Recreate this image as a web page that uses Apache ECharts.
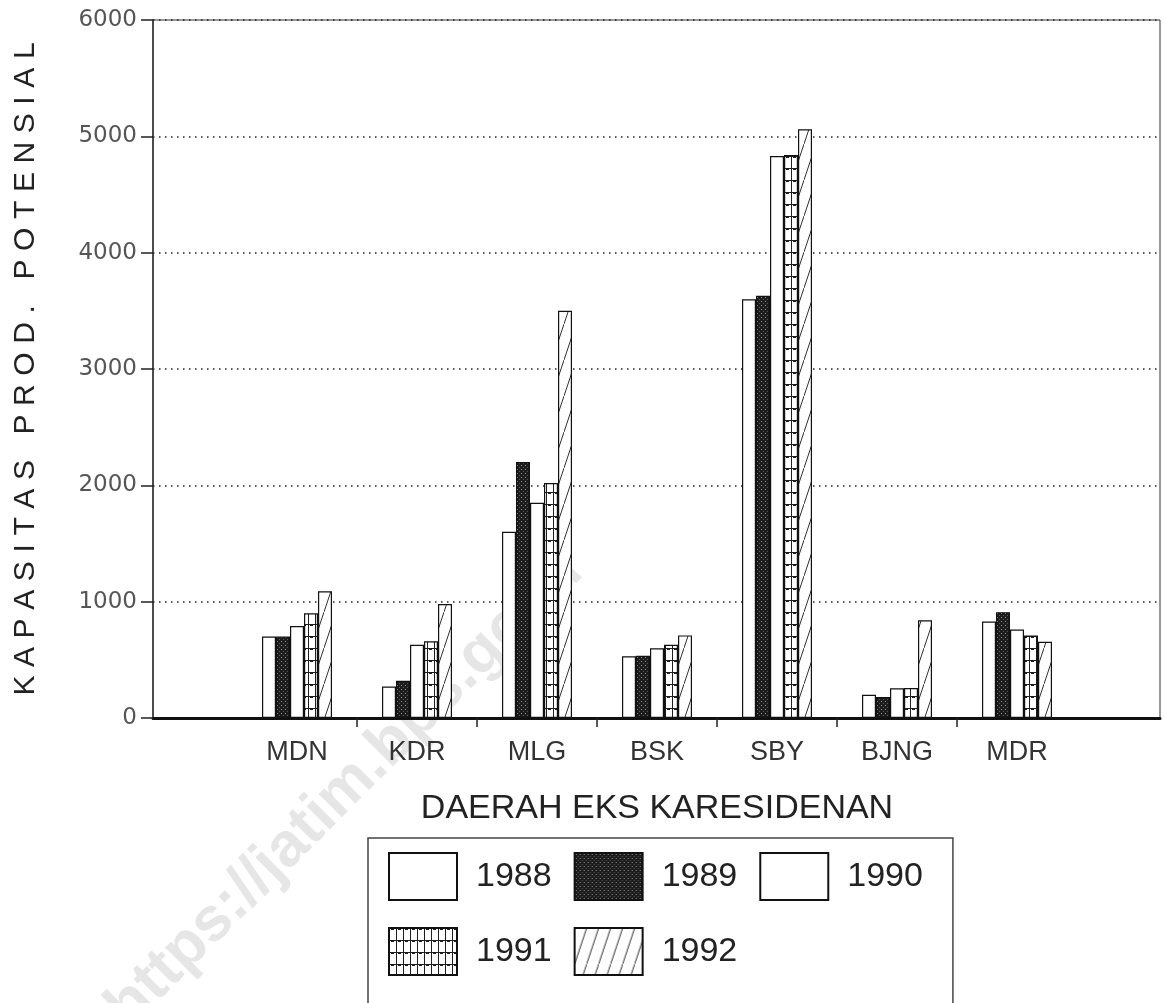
<!DOCTYPE html>
<html>
<head>
<meta charset="utf-8">
<script src="https://cdn.jsdelivr.net/npm/echarts@6/dist/echarts.min.js"></script>
<style>
  html, body { margin: 0; background: #fff; }
  #chart { width: 1166px; height: 1003px; }
</style>
</head>
<body>
<div id="chart"></div>
<script>
// values
const categories = ['MDN', 'KDR', 'MLG', 'BSK', 'SBY', 'BJNG', 'MDR']
const years = ['1988', '1989', '1990', '1991', '1992']
const data1988 = [700, 270, 1600, 530, 3600, 200, 830]
const data1989 = [700, 320, 2200, 535, 3630, 180, 910]
const data1990 = [790, 630, 1850, 600, 4830, 255, 760]
const data1991 = [900, 660, 2020, 630, 4840, 258, 710]
const data1992 = [1090, 980, 3500, 710, 5060, 840, 655]
const yMin = 0
const yMax = 6000
const yStep = 1000

const xTitle = 'DAERAH EKS KARESIDENAN'
const yTitle = 'KAPASITAS PROD. POTENSIAL'

const ink = '#1e1e1e'

// outer frame is wider than the category band (in category units)
const frameMin = -1.2
const frameMax = -1.2 + 1007 / 120
// ticks only between the categories
const betweenTicks = categories.slice(1).map((c, i) => i + 0.5)

// hatch fills like the old printout
function makePattern(kind) {
  const c = document.createElement('canvas')
  const g = c.getContext('2d')
  if (kind === 'dark') {
    c.width = 4; c.height = 4
    g.fillStyle = '#1c1c1c'
    g.fillRect(0, 0, 4, 4)
    g.fillStyle = '#9a9a9a'
    g.fillRect(1, 1, 1, 1)
    g.fillStyle = '#5a5a5a'
    g.fillRect(3, 3, 1, 1)
  } else if (kind === 'grid') {
    c.width = 7; c.height = 12
    g.fillStyle = '#fff'
    g.fillRect(0, 0, 7, 12)
    g.fillStyle = ink
    g.fillRect(0, 0, 1, 12)
    g.fillRect(0, 0, 7, 1)
    g.fillRect(2, 1, 3, 1)
  } else if (kind === 'hatch') {
    c.width = 12; c.height = 36
    g.fillStyle = '#fff'
    g.fillRect(0, 0, 12, 36)
    g.strokeStyle = '#333'
    g.lineWidth = 1
    g.beginPath()
    g.moveTo(-1, 39)
    g.lineTo(13, -3)
    g.stroke()
  }
  return { image: c, repeat: 'repeat' }
}

const fills = ['#fff', makePattern('dark'), '#fff', makePattern('grid'), makePattern('hatch')]
const seriesData = [data1988, data1989, data1990, data1991, data1992]

const chart = echarts.init(document.getElementById('chart'))

chart.setOption({
  animation: false,
  backgroundColor: '#fff',
  textStyle: { fontFamily: 'Liberation Sans' },
  grid: [
    {
      left: 153,
      right: 6,
      top: 20,
      bottom: 285,
      show: true,
      borderColor: '#333',
      borderWidth: 1
    },
    {
      left: 237,
      right: 89,
      top: 20,
      bottom: 285
    }
  ],
  xAxis: [
    {
      gridIndex: 0,
      type: 'value',
      min: frameMin,
      max: frameMax,
      axisLine: { show: true, onZero: false, lineStyle: { color: '#111', width: 3 } },
      axisTick: {
        show: true,
        length: 9,
        customValues: betweenTicks,
        lineStyle: { color: '#222', width: 1.5 }
      },
      axisLabel: { show: false },
      splitLine: { show: false }
    },
    {
      gridIndex: 1,
      type: 'category',
      data: categories,
      axisLine: { show: false },
      axisTick: { show: false },
      axisLabel: {
        color: '#333',
        fontSize: 27,
        margin: 21
      },
      name: xTitle,
      nameLocation: 'middle',
      nameGap: 74,
      nameTextStyle: { fontSize: 34, color: '#222' }
    }
  ],
  yAxis: [
    {
      gridIndex: 0,
      type: 'value',
      min: yMin,
      max: yMax,
      interval: yStep,
      axisLine: { show: true, onZero: false, lineStyle: { color: '#333', width: 1.5 } },
      axisTick: { show: true, length: 12, lineStyle: { color: '#222', width: 1.5 } },
      axisLabel: {
        color: '#555',
        fontFamily: 'DejaVu Sans',
        fontSize: 23,
        margin: 16,
        formatter: (v) => String(v)
      },
      splitLine: {
        show: true,
        lineStyle: { color: '#222', type: [1.5, 4.5], width: 1.5 }
      },
      name: yTitle.split('').map(ch => '{c|' + ch + '}').join(''),
      nameLocation: 'middle',
      nameRotate: 90,
      nameGap: 112,
      nameTextStyle: {
        rich: {
          c: { fontSize: 30, color: '#222', padding: [0, 4.3], fontFamily: 'Liberation Sans' }
        }
      }
    },
    {
      gridIndex: 1,
      type: 'value',
      min: yMin,
      max: yMax,
      interval: yStep,
      show: false
    }
  ],
  legend: {
    data: years,
    left: 368,
    top: 838,
    width: 600,
    padding: [12, 30, 30, 20],
    itemWidth: 68,
    itemHeight: 47,
    itemGap: 22,
    icon: 'rect',
    borderColor: '#444',
    borderWidth: 1.5,
    textStyle: {
      fontSize: 34,
      color: '#222',
      lineHeight: 53,
      padding: [0, 0, 0, 14]
    }
  },
  graphic: [
    {
      type: 'text',
      x: 345,
      y: 790,
      rotation: Math.PI / 4,
      z: -10,
      silent: true,
      style: {
        text: 'https://jatim.bps.go.id',
        fontSize: 62,
        fontWeight: 'bold',
        fontFamily: 'Liberation Sans',
        fill: 'rgba(160,160,160,0.26)',
        align: 'center',
        verticalAlign: 'middle'
      }
    }
  ],
  series: years.map((year, i) => ({
    name: year,
    type: 'bar',
    xAxisIndex: 1,
    yAxisIndex: 1,
    barWidth: 14,
    barGap: '0%',
    itemStyle: {
      color: fills[i],
      borderColor: '#111',
      borderWidth: 1.2
    },
    data: seriesData[i]
  }))
})
</script>
</body>
</html>
